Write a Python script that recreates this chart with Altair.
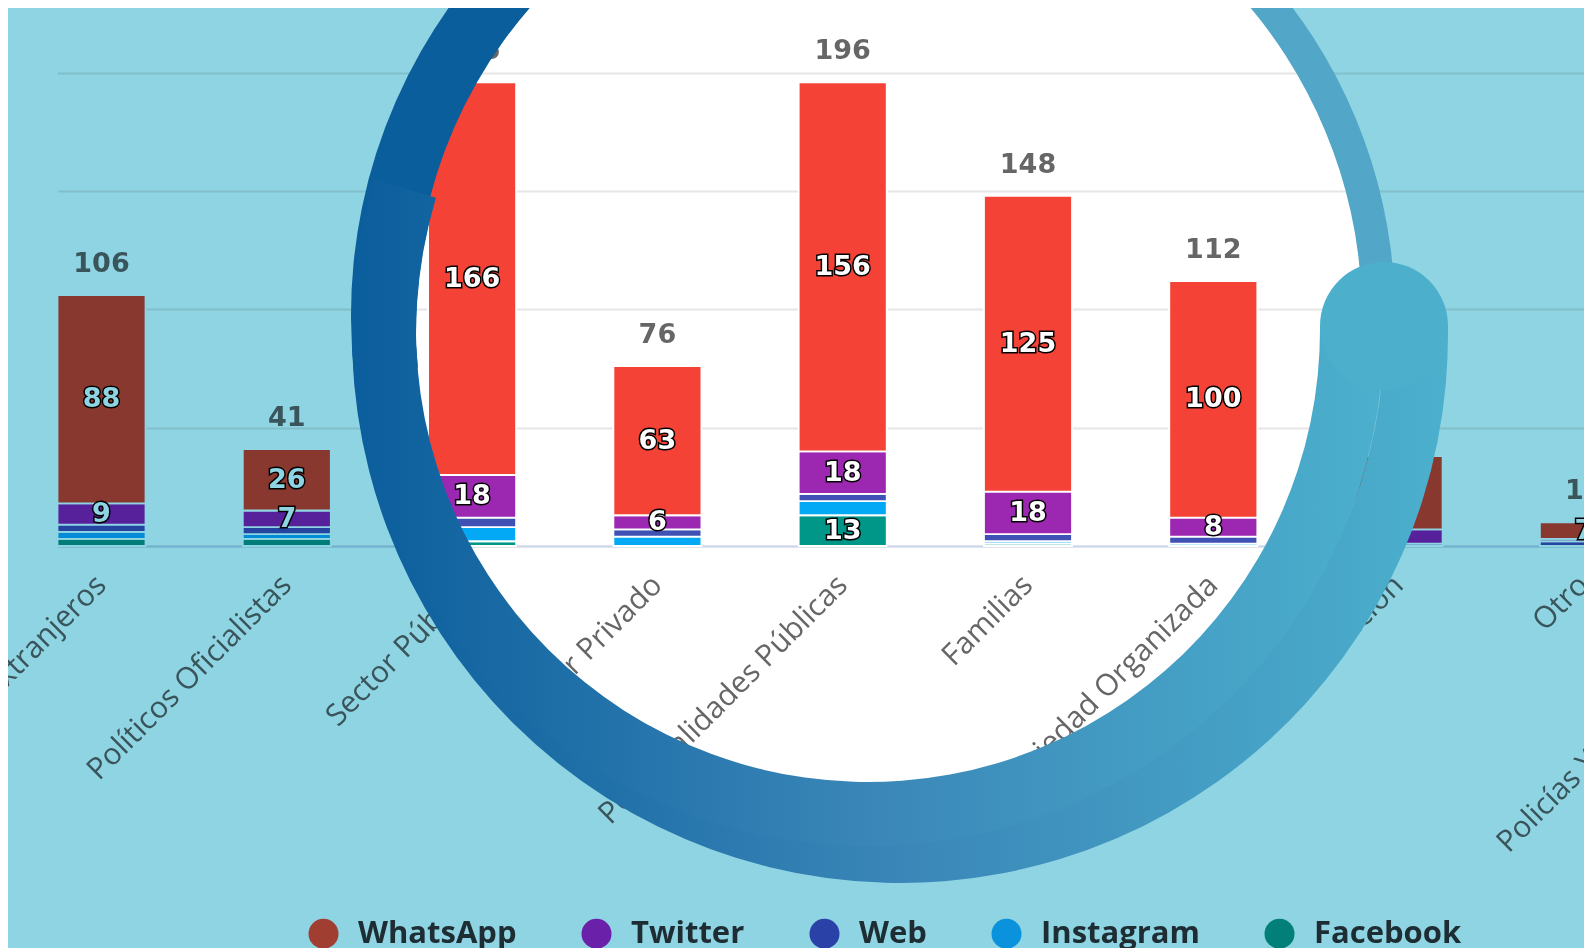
import altair as alt
import pandas as pd

categories = ["Medios Extranjeros", "Políticos Oficialistas", "Sector Público", "Sector Privado",
              "Personalidades Públicas", "Familias", "Sociedad Organizada", "Oposición", "Otro",
              "Policías Y Fuerzas Armadas"]
series = ["WhatsApp", "Twitter", "Web", "Instagram", "Facebook"]
colors = ["#f44336", "#9c27b0", "#3f51b5", "#03a9f4", "#009688"]
legend_colors = ["#a03e32", "#6a20a8", "#2a42a8", "#0a92dc", "#008078"]
labelled_series = ["WhatsApp", "Twitter", "Facebook"]
whatsapp = [88, 26, 166, 63, 156, 125, 100, 31, 7]
twitter = [9, 7, 18, 6, 18, 18, 8, 6, 1]
web = [3, 3, 4, 3, 3, 3, 3, 1, 2]
instagram = [3, 2, 6, 4, 6, 1, 1, 0, 0]
facebook = [3, 3, 2, 0, 13, 1, 0, 0, 0]
grid_values = [0, 50, 100, 150, 200]

rows = []
for s_i, (name, vals) in enumerate(zip(series, [whatsapp, twitter, web, instagram, facebook])):
    for c, v in zip(categories, vals):
        rows.append({"cat": c, "serie": name, "value": v, "rank": len(series) - s_i,
                     "show": name in labelled_series})
df = pd.DataFrame(rows)

xscale = alt.Scale(domain=categories, range=[49.5, 1805.2], paddingInner=0.525, paddingOuter=0)
yscale = alt.Scale(domain=[0, 227.4], nice=False)

x_enc = alt.X("cat:N", scale=xscale, sort=categories,
              axis=alt.Axis(title=None, labelAngle=-45, labelAlign="right", labelBaseline="middle",
                            labelFont="Open Sans", labelFontSize=30, labelColor="#666666",
                            labelPadding=34, tickSize=0, ticks=False, domainColor="#ccd6eb",
                            domainWidth=2, labelOverlap=False, labelLimit=1000, grid=False))
y_axis = alt.Axis(values=grid_values, labels=False, ticks=False, domain=False, title=None,
                  gridColor="#e6e6e6", gridWidth=2)

stacked = (alt.Chart(df)
           .transform_stack(stack="value", as_=["y0", "y1"], groupby=["cat"],
                            sort=[alt.SortField(field="rank", order="ascending")])
           .transform_calculate(mid="(datum.y0 + datum.y1) / 2"))

bars = stacked.transform_filter("datum.value > 0").mark_bar(stroke="white", strokeWidth=1.8).encode(
    x=x_enc,
    y=alt.Y("y0:Q", scale=yscale, axis=y_axis),
    y2="y1:Q",
    color=alt.Color("serie:N", scale=alt.Scale(domain=series, range=colors), legend=None),
    order=alt.Order("rank:Q"),
)

labels = stacked.transform_filter("datum.value >= 6 && datum.show")
lab_outline = labels.mark_text(font="DejaVu Sans", fontWeight="bold", fontSize=27, baseline="middle",
                               color="#000000", stroke="#000000", strokeWidth=3).encode(
    x=x_enc, y=alt.Y("mid:Q", scale=yscale, axis=y_axis), text="value:Q")
lab_fill = labels.mark_text(font="DejaVu Sans", fontWeight="bold", fontSize=27, baseline="middle",
                            color="#ffffff").encode(
    x=x_enc, y=alt.Y("mid:Q", scale=yscale, axis=y_axis), text="value:Q")

totals = (alt.Chart(df)
          .transform_aggregate(total="sum(value)", groupby=["cat"])
          .mark_text(font="DejaVu Sans", fontWeight="bold", fontSize=27, baseline="middle",
                     color="#666666", dy=-31)
          .encode(x=x_enc, y=alt.Y("total:Q", scale=yscale, axis=y_axis), text="total:Q"))

# ---- magnifier decoration (not data) ----
deco = pd.DataFrame({"k": [0]})
TAU = 6.2832


def grad(c0, c1, cm=None):
    stops = [alt.GradientStop(color=c0, offset=0)]
    if cm:
        stops.append(alt.GradientStop(color=cm, offset=0.5))
    stops.append(alt.GradientStop(color=c1, offset=1))
    return alt.LinearGradient(gradient="linear", x1=0, x2=1, y1=0, y2=0, stops=stops)


def arc(cx, cy, t0, t1, r_out, r_in, color, **kw):
    return alt.Chart(deco).mark_arc(theta=t0, theta2=t1, radius=r_out, radius2=r_in,
                                    color=color, **kw).encode(x=alt.value(cx), y=alt.value(cy))


ring_grad = grad("#0b5e9c", "#4cb0cd", "#3a86b8")
tint = arc(875, 307, 0, TAU, 3000, 481, "#8fd4e2", blend="multiply")
thin_ring = arc(875, 307, 0.2, 1.62, 512, 479, "#52a6c7")
ring_upper = arc(875, 307, 4.6, TAU, 532, 468, "#0b5e9c")
ring_outer = arc(892, 327, 1.552, 5.0, 548, 484, ring_grad)
ring_inner = arc(860, 322, 1.563, 5.0, 516, 452, ring_grad)
ring_cap = arc(1376, 318, 0, TAU, 64, 0, "#4cb0cd")

legend_layer = alt.Chart(df).mark_circle(opacity=0).encode(
    x=alt.value(0), y=alt.value(0),
    color=alt.Color("serie:N", scale=alt.Scale(domain=series, range=legend_colors),
                    legend=alt.Legend(title=None, orient="none", legendX=300, legendY=910,
                                      direction="horizontal", symbolType="circle", symbolSize=900,
                                      symbolOpacity=1, symbolStrokeWidth=0, labelFont="Open Sans",
                                      labelFontSize=31, labelFontWeight="bold",
                                      labelColor="#1d2d33", labelOffset=19,
                                      columnPadding=64, labelLimit=400)),
)

chart = alt.layer(bars, lab_outline, lab_fill, totals, tint, thin_ring, ring_upper,
                  ring_outer, ring_inner, ring_cap, legend_layer
                  ).resolve_scale(color="independent").properties(
    width=1576, height=538, autosize=alt.AutoSizeParams(type="none"),
    padding={"left": 0, "top": 0, "right": 0, "bottom": 402}, background="white"
).configure_view(stroke=None)

chart.save("out.html", embed_options={"renderer": "svg", "actions": False})
